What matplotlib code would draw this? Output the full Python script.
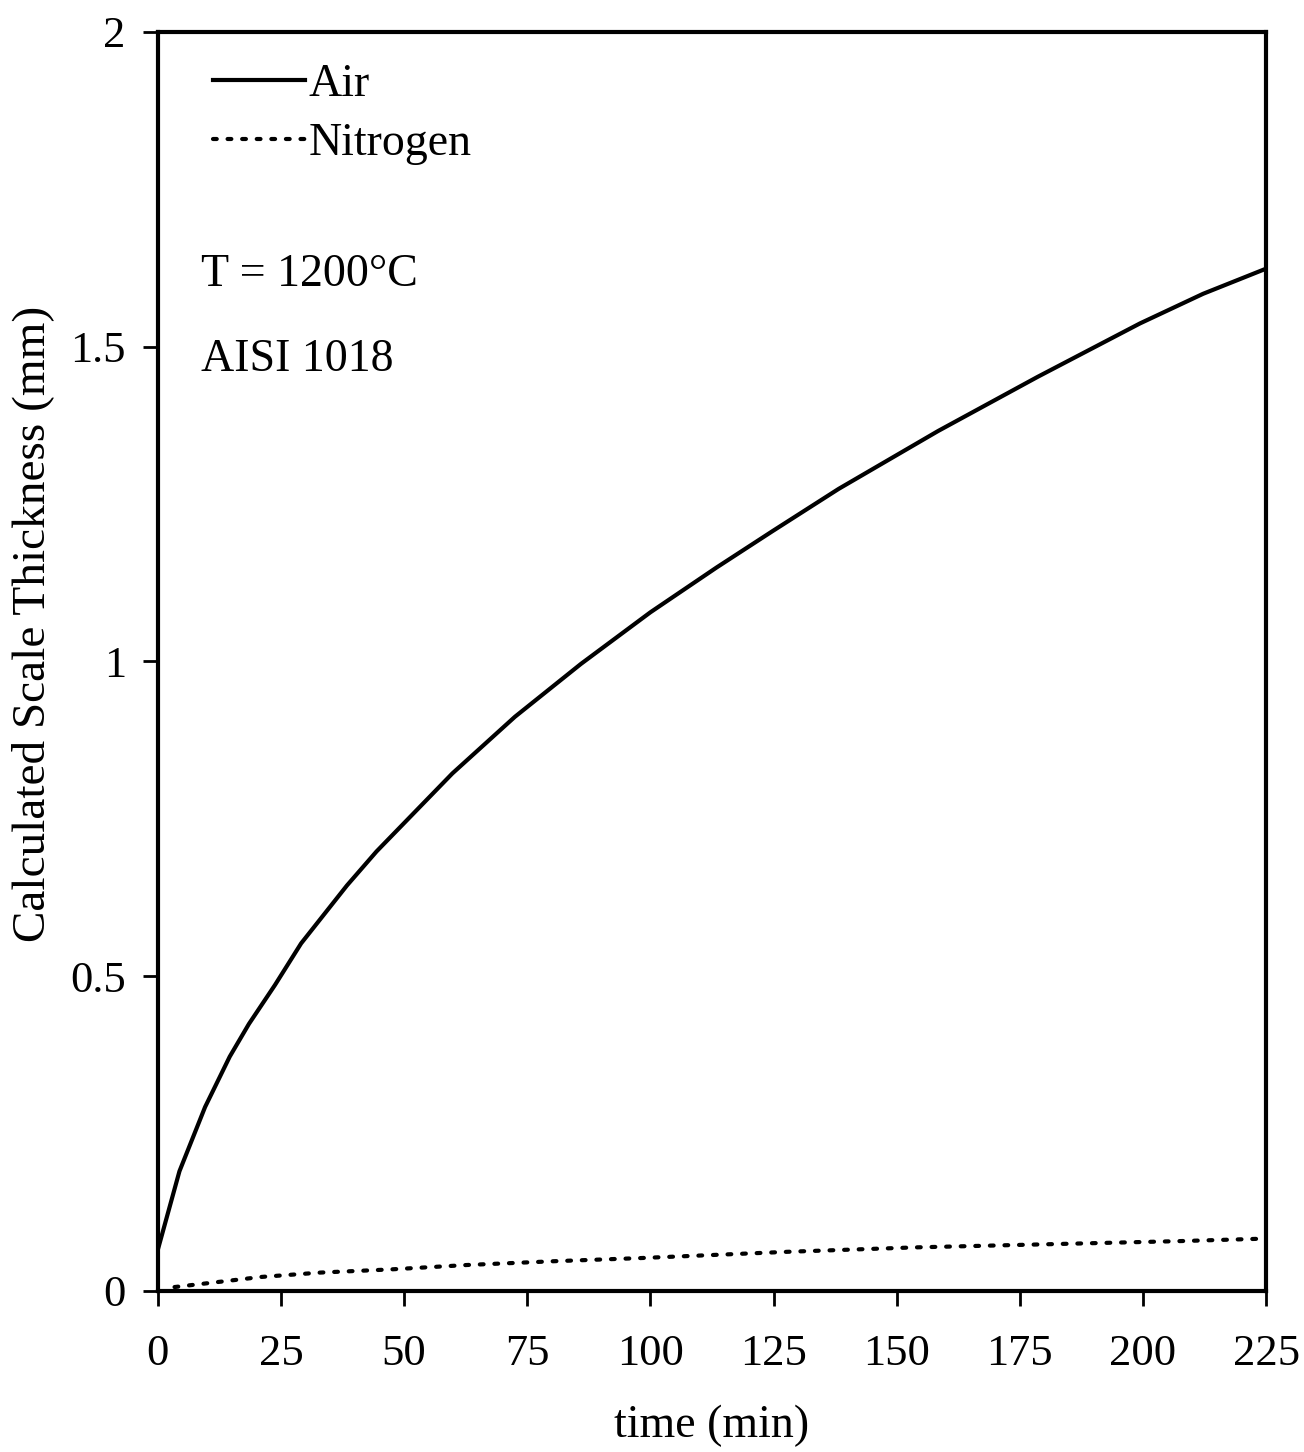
import matplotlib
matplotlib.use("Agg")
import matplotlib.pyplot as plt

# values
time_air = [0, 4.4, 9.6, 14.6, 18.5, 23.8, 29.1, 38.4, 44.4, 59.8, 72.5, 85.9,
            100, 113.4, 124.8, 138.2, 158.4, 178.6, 199.4, 212.2, 225]
thick_air = [0.065, 0.19, 0.292, 0.372, 0.424, 0.486, 0.552, 0.644, 0.698, 0.822, 0.912, 0.996,
             1.078, 1.149, 1.207, 1.274, 1.366, 1.452, 1.537, 1.584, 1.624]

time_n2 = [3.4, 12.2, 20.9, 33, 47.2, 62.7, 80.3, 97.9, 127.8, 153.7, 180.6, 207.5, 225]
thick_n2 = [0.006, 0.014, 0.022, 0.029, 0.034, 0.041, 0.047, 0.052, 0.062, 0.069, 0.074, 0.079, 0.083]

x_ticks = [0, 25, 50, 75, 100, 125, 150, 175, 200, 225]
y_ticks = [0, 0.5, 1, 1.5, 2]
y_ticklabels = ["0", "0.5", "1", "1.5", "2"]

plt.rcParams['font.family'] = ['Liberation Serif', 'DejaVu Serif']

fig = plt.figure(figsize=(13.04, 14.52), dpi=100)
ax = fig.add_axes([0.121, 0.111, 0.850, 0.867])

ax.plot(time_air, thick_air, color='black', lw=3, label='Air')
ax.plot(time_n2, thick_n2, color='black', lw=3, linestyle=(0, (0.9, 2.6)),
        dash_capstyle='round', label='Nitrogen')

ax.set_xlim(0, 225)
ax.set_ylim(0, 2)
ax.set_xticks(x_ticks)
ax.set_xticklabels([str(t) for t in x_ticks])
ax.set_yticks(y_ticks)
ax.set_yticklabels(y_ticklabels)

for s in ax.spines.values():
    s.set_linewidth(3)
ax.tick_params(axis='both', direction='out', length=11, width=2, labelsize=32)
ax.tick_params(axis='x', pad=20)
ax.tick_params(axis='y', pad=12)

ax.set_xlabel('time (min)', fontsize=33, labelpad=22)
ax.set_ylabel('Calculated Scale Thickness (mm)', fontsize=34)
ax.yaxis.set_label_coords(-0.094, 0.53)

# legend in the top left corner, no frame
ax.legend(loc='upper left', bbox_to_anchor=(0.05, 0.975), frameon=False, fontsize=33,
          handlelength=2.0, handletextpad=0.08, labelspacing=0.37, borderpad=0, borderaxespad=0)

ax.text(0.039, 0.807, 'T = 1200°C', transform=ax.transAxes, fontsize=33, va='center', ha='left')
ax.text(0.039, 0.740, 'AISI 1018', transform=ax.transAxes, fontsize=33, va='center', ha='left')

fig.savefig('out.png', dpi=100)
